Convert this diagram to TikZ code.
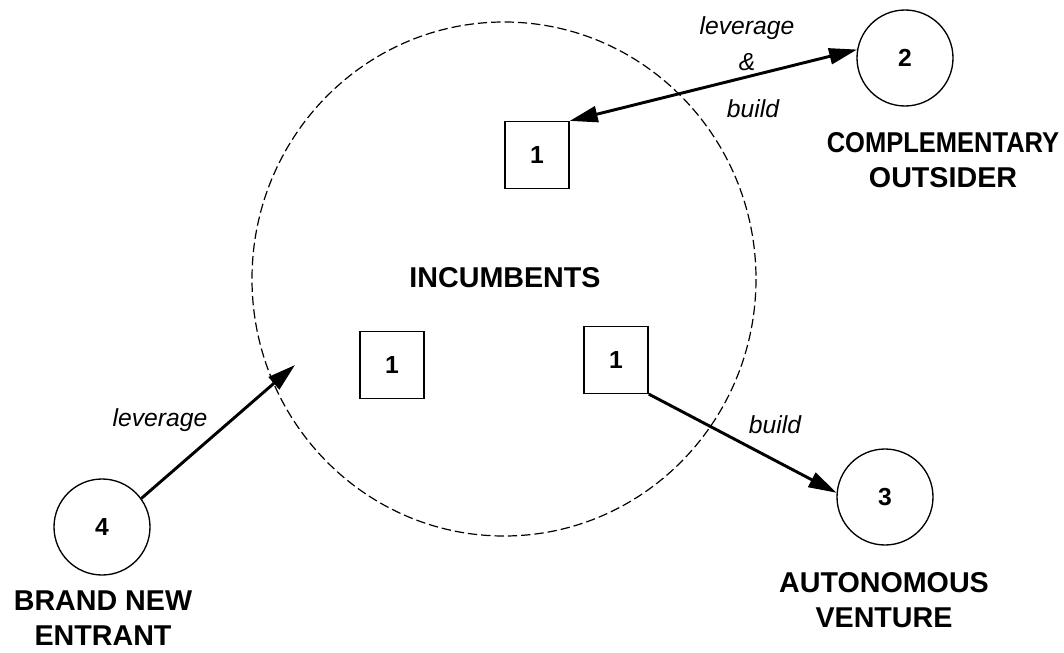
\documentclass[tikz,border=0pt]{standalone}
\usepackage{fontspec}
\setmainfont{Liberation Sans}
\usetikzlibrary{arrows.meta}
\tikzset{
  firm/.style={draw,line width=1.1pt,minimum width=48pt,minimum height=50pt,inner sep=0pt,font=\fontsize{18.5}{20}\selectfont\bfseries},
  player/.style={draw,circle,line width=1pt,minimum size=72pt,inner sep=0pt,font=\fontsize{18.5}{20}\selectfont\bfseries},
  caption/.style={align=center,font=\fontsize{21.5}{26}\selectfont\bfseries},
  verb/.style={inner sep=0pt,font=\fontsize{18.5}{20}\selectfont\itshape},
  tip/.style={Triangle[length=21pt,width=12pt]},
  move/.style={line width=2.2pt,-{Triangle[length=21pt,width=12pt]}},
}
\begin{document}
\begin{tikzpicture}[x=0.75pt,y=-0.75pt]
    \useasboundingbox (0,0) rectangle (1064,653);
    % incumbents region
    \draw[line width=0.9pt,dash pattern=on 7pt off 3pt] (504,279) ellipse [x radius=252,y radius=257];
    \node[caption] (inc) at (505,278) {INCUMBENTS};

    \node[firm] (f1) at (537,155) {1};
    \node[firm] (f2) at (392,365) {1};
    \node[firm] (f3) at (616,360) {1};

    \node[player] (c2) at (905,58) {2};
    \node[player] (c3) at (885,497) {3};
    \node[player] (c4) at (102,527) {4};

    \node[caption] (l2) at (943,160) {\scalebox{0.89}[1]{COMPLEMENTARY}\\OUTSIDER};
    \node[caption] (l3) at (884,600) {AUTONOMOUS\\VENTURE};
    \node[caption] (l4) at (103,618) {BRAND NEW\\ENTRANT};

    \coordinate (t4) at (295,365);
    \draw[move,{Triangle[length=21pt,width=12pt]}-{Triangle[length=21pt,width=12pt]}] (f1.north east)--(c2.170);
    \draw[move] (f3.south east)--(c3.175);
    \draw[move] (c4.36)--(t4);

    \node[verb] (v1) at (747,28) {leverage};
    \node[verb] (v2) at (747,62) {\&};
    \node[verb] (v3) at (753,109) {build};
    \node[verb] (v4) at (775,425) {build};
    \node[verb] (v5) at (160,420) {leverage};
  \end{tikzpicture}
\end{document}
